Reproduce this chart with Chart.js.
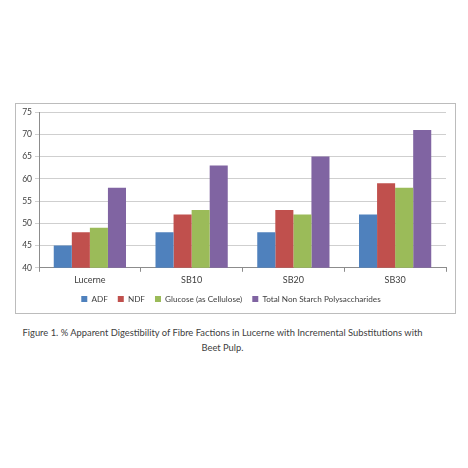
<!DOCTYPE html>
<html>
<head>
<meta charset="utf-8">
<script src="https://cdn.jsdelivr.net/npm/chart.js@4/dist/chart.umd.min.js"></script>
<style>
  body { margin: 0; background: #fff; width: 468px; height: 468px; position: relative; overflow: hidden; }
  #box { position: absolute; left: 15px; top: 103px; width: 439px; height: 209px; border: 1px solid #bcbcbc; }
  #box canvas { position: absolute; left: 0; top: 0; }
  #caption { position: absolute; left: 0; top: 325px; width: 445px; text-align: center;
    font-family: Lato, sans-serif; font-size: 9.35px; line-height: 15px; color: #404040; }
</style>
</head>
<body>
<div id="box"><canvas id="chart" width="439" height="209"></canvas></div>
<div id="caption">Figure 1. % Apparent Digestibility of Fibre Factions in Lucerne with Incremental Substitutions with<br>Beet Pulp.</div>
<script>
const categories = ["Lucerne", "SB10", "SB20", "SB30"];
const adf = [45, 48, 48, 52];
const ndf = [48, 52, 53, 59];
const glucose = [49, 53, 52, 58];
const tnsp = [58, 63, 65, 71];
const yTicks = [40, 45, 50, 55, 60, 65, 70, 75];

const tickFont = { family: "Lato, sans-serif", size: 8.5 };
const legendFont = { family: "Lato, sans-serif", size: 8.2 };

const ctx = document.getElementById("chart").getContext("2d");
new Chart(ctx, {
  type: "bar",
  data: {
    labels: categories,
    datasets: [
      { label: "ADF", data: adf, backgroundColor: "#4f81bd" },
      { label: "NDF", data: ndf, backgroundColor: "#c0504d" },
      { label: "Glucose (as Cellulose)", data: glucose, backgroundColor: "#9bbb59" },
      { label: "Total Non Starch Polysaccharides", data: tnsp, backgroundColor: "#8064a2" },
    ],
  },
  options: {
    responsive: false,
    animation: false,
    layout: { padding: { top: 8, right: 9, bottom: 0, left: 0 } },
    datasets: { bar: { barPercentage: 1, categoryPercentage: 0.71 } },
    plugins: {
      tooltip: { enabled: false },
      legend: {
        position: "bottom",
        labels: { boxWidth: 6, boxHeight: 6, padding: 10, color: "#404040", font: legendFont },
      },
    },
    scales: {
      x: {
        grid: { display: true, drawOnChartArea: false, offset: true, tickLength: 4, color: "#8c8c8c" },
        border: { color: "#8c8c8c" },
        ticks: { color: "#404040", font: { family: "Lato, sans-serif", size: 9 }, padding: 3 },
        afterFit: (s) => { s.height = 17; },
      },
      y: {
        min: 40,
        max: 75,
        afterBuildTicks: (s) => { s.ticks = yTicks.map((v) => ({ value: v })); },
        grid: { color: "#cfcfcf", tickLength: 4 },
        border: { color: "#8c8c8c" },
        ticks: { color: "#404040", font: tickFont, padding: 3 },
        afterFit: (s) => { s.width = 23; },
      },
    },
  },
});
</script>
</body>
</html>
